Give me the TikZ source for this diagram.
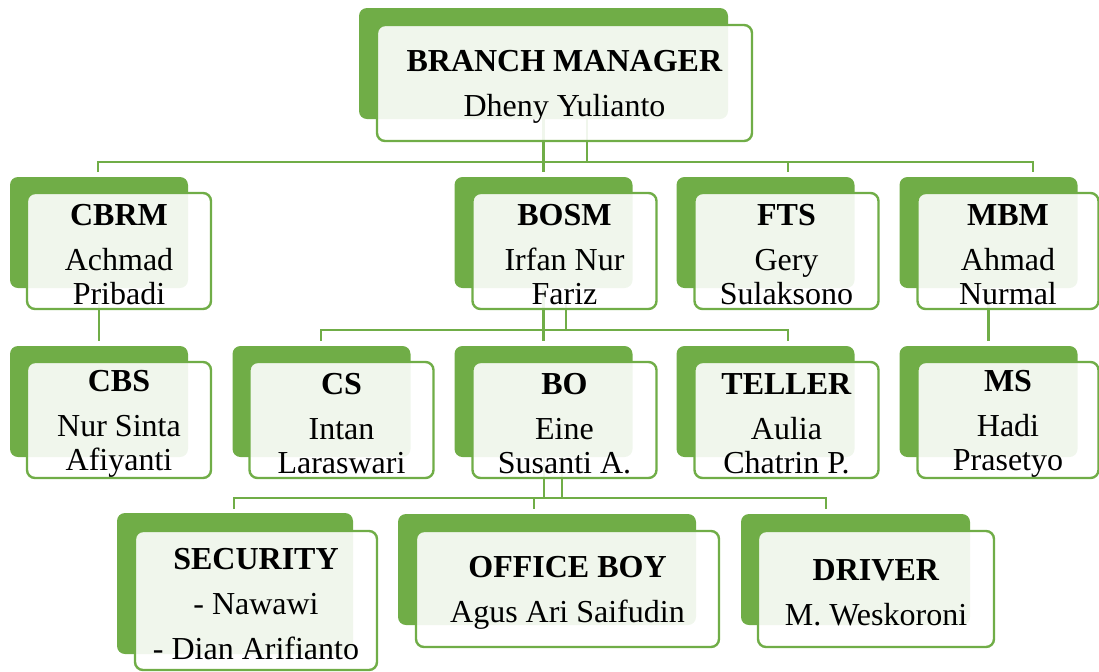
\documentclass[tikz,border=0pt]{standalone}
\usepackage{fontspec}
\setmainfont{Liberation Serif}
\usepackage{xcolor}
\usepackage{tikz}
\usetikzlibrary{backgrounds}

\definecolor{orggreen}{HTML}{70AD47}
\newcommand{\unittitle}[1]{\rule{0pt}{14pt}\textbf{#1}}

\begin{document}
\begin{tikzpicture}[
  x=0.5pt, y=-0.5pt,
  back/.style={fill=orggreen, rounded corners=4pt, inner sep=0pt,
    minimum width=89pt, minimum height=55.5pt},
  card/.style={draw=orggreen, line width=1.2pt, fill=white, fill opacity=0.9,
    text opacity=1, rounded corners=4pt, inner sep=0pt, align=center,
    minimum width=92pt, minimum height=58pt,
    font=\fontsize{16}{17}\selectfont},
  link/.style={draw=orggreen, line width=1.4pt}
]
\useasboundingbox (0,0) rectangle (1099,671);

% level 1
\node[back, minimum width=184.5pt] (bm-bg) at (543.5,63.5) {};
\node[card, minimum width=187.5pt] (bm) at (564.5,83)
  {\unittitle{BRANCH MANAGER}\\[5.5pt]Dheny Yulianto};

% level 2
\node[back] (cbrm-bg) at (99,232.5) {};
\node[card] (cbrm) at (119,251) {\unittitle{CBRM}\\[5.5pt]Achmad\\Pribadi};
\node[back] (bosm-bg) at (543.5,232.5) {};
\node[card] (bosm) at (564.5,251) {\unittitle{BOSM}\\[5.5pt]Irfan Nur\\Fariz};
\node[back] (fts-bg) at (765.5,232.5) {};
\node[card] (fts) at (786.5,251) {\unittitle{FTS}\\[5.5pt]Gery\\Sulaksono};
\node[back] (mbm-bg) at (988.5,232.5) {};
\node[card, minimum width=90.5pt] (mbm) at (1008,251) {\unittitle{MBM}\\[5.5pt]Ahmad\\Nurmal};

% level 3
\node[back] (cbs-bg) at (99,401.5) {};
\node[card] (cbs) at (119,420) {\unittitle{CBS}\\[5.5pt]Nur Sinta\\Afiyanti};
\node[back] (cs-bg) at (321.5,401.5) {};
\node[card] (cs) at (341.5,420) {\unittitle{CS}\\[5.5pt]Intan\\Laraswari};
\node[back] (bo-bg) at (543.5,401.5) {};
\node[card] (bo) at (564.5,420) {\unittitle{BO}\\[5.5pt]Eine\\Susanti A.};
\node[back] (teller-bg) at (765.5,401.5) {};
\node[card] (teller) at (786.5,420) {\unittitle{TELLER}\\[5.5pt]Aulia\\Chatrin P.};
\node[back] (ms-bg) at (988.5,401.5) {};
\node[card, minimum width=90.5pt] (ms) at (1008,420) {\unittitle{MS}\\[5.5pt]Hadi\\Prasetyo};

% level 4
\node[back, minimum width=118pt, minimum height=70.5pt] (sec-bg) at (235,583.5) {};
\node[card, minimum width=121pt, minimum height=69.5pt] (sec) at (256,600.5)
  {\unittitle{SECURITY}\\[5.5pt]- Nawawi\\[5.5pt]- Dian Arifianto};
\node[back, minimum width=149pt] (ob-bg) at (547,569.5) {};
\node[card, minimum width=151.5pt] (ob) at (567.5,589)
  {\unittitle{OFFICE BOY}\\[5.5pt]Agus Ari Saifudin};
\node[back, minimum width=114.5pt] (drv-bg) at (855.5,569.5) {};
\node[card, minimum width=118pt] (drv) at (876,589)
  {\unittitle{DRIVER}\\[5.5pt]M. Weskoroni};

% connectors
\begin{scope}[on background layer]
\coordinate (bus1) at (587,162);
\coordinate (bus2) at (566,330);
\coordinate (bus3) at (562,498);
\draw[link] (bm-bg.south -| bus1) -- (bus1);
\draw[link] (bm-bg) -- ([yshift=2.5pt]bosm-bg.north);
\draw[link] (98,172) -- (98,162) -- (1033,162) -- (1033,172);
\draw[link] (788,162) -- (788,172);
\draw[link] (cbrm-bg) -- ([yshift=2.5pt]cbs-bg.north);
\draw[link] (mbm-bg) -- ([yshift=2.5pt]ms-bg.north);
\draw[link] (bosm-bg.south -| bus2) -- (bus2);
\draw[link] (bosm-bg) -- ([yshift=2.5pt]bo-bg.north);
\draw[link] (321,341) -- (321,330) -- (788,330) -- (788,341);
\draw[link] (bo-bg.south -| bus3) -- (bus3);
\draw[link] (544,457) -- (544,498);
\draw[link] (234,509) -- (234,498) -- (826,498) -- (826,509);
\draw[link] (534,498) -- (534,509);
\end{scope}
\end{tikzpicture}
\end{document}
